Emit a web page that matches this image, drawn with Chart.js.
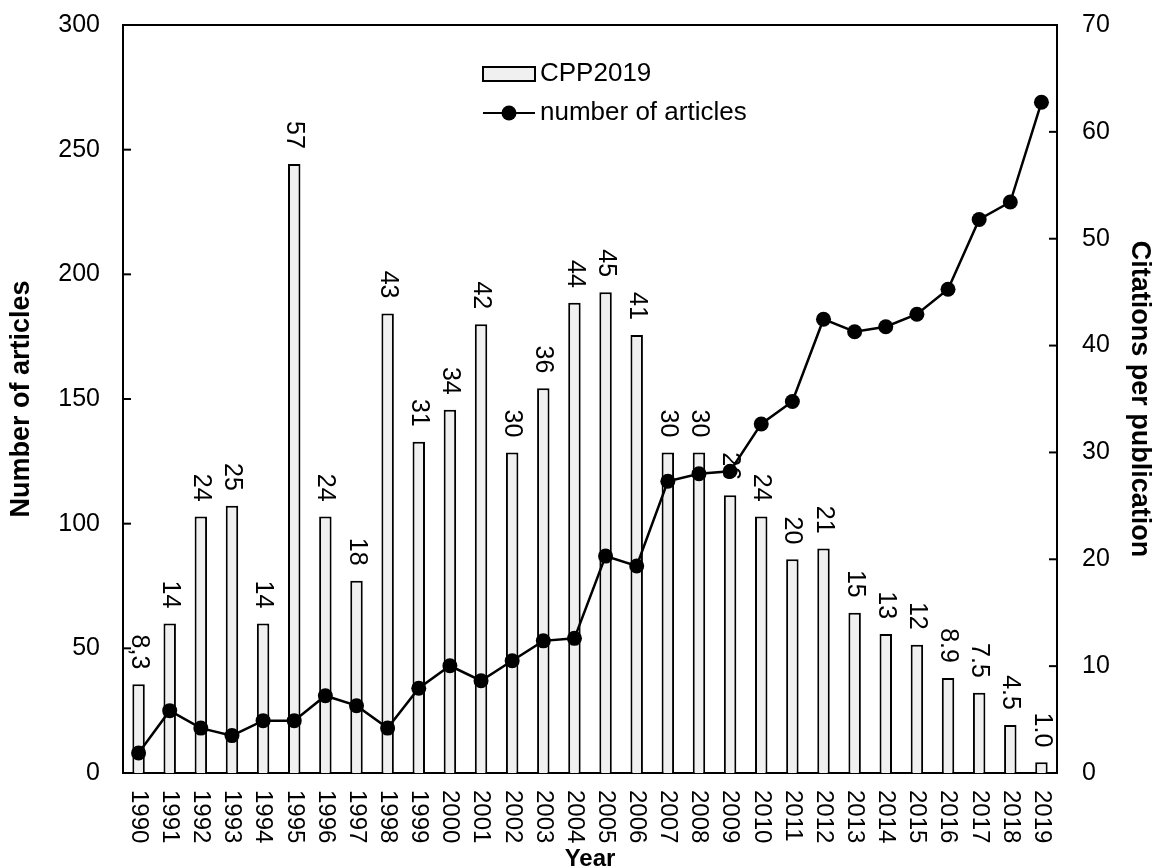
<!DOCTYPE html>
<html>
<head>
<meta charset="utf-8">
<script src="https://cdn.jsdelivr.net/npm/chart.js@4.4.0/dist/chart.umd.min.js"></script>
<style>
  body { margin: 0; background: #fff; }
  #wrap { width: 1156px; height: 868px; }
</style>
</head>
<body>
<div id="wrap"><canvas id="chart" width="1156" height="868"></canvas></div>
<script>
// data
const years = ['1990','1991','1992','1993','1994','1995','1996','1997','1998','1999',
  '2000','2001','2002','2003','2004','2005','2006','2007','2008','2009',
  '2010','2011','2012','2013','2014','2015','2016','2017','2018','2019'];
const articleCounts = [8, 25, 18, 15, 21, 21, 31, 27, 18, 34,
  43, 37, 45, 53, 54, 87, 83, 117, 120, 121,
  140, 149, 182, 177, 179, 184, 194, 222, 229, 269];
const cppValues = [8.3, 14, 24, 25, 14, 57, 24, 18, 43, 31,
  34, 42, 30, 36, 44, 45, 41, 30, 30, 26,
  24, 20, 21, 15, 13, 12, 8.9, 7.5, 4.5, 1.0];
const cppLabels = ['8,3', '14', '24', '25', '14', '57', '24', '18', '43', '31',
  '34', '42', '30', '36', '44', '45', '41', '30', '30', '26',
  '24', '20', '21', '15', '13', '12', '8.9', '7.5', '4.5', '1.0'];
const leftAxisMax = 300, leftAxisStep = 50;
const rightAxisMax = 70, rightAxisStep = 10;

const FONT = '"Liberation Sans", Arial, sans-serif';
Chart.defaults.font.family = FONT;
Chart.defaults.color = '#000';

// bar labels, inward ticks, top frame, rotated year labels and legend
const decor = {
  id: 'decor',
  afterDatasetDraw(chart, args) {
    if (args.index !== 0) return;
    const ctx = chart.ctx;
    const meta = chart.getDatasetMeta(0);
    ctx.save();
    ctx.font = '25px ' + FONT;
    ctx.fillStyle = '#000';
    ctx.textAlign = 'right';
    ctx.textBaseline = 'middle';
    meta.data.forEach((bar, i) => {
      ctx.save();
      ctx.translate(bar.x, bar.y - 15);
      ctx.rotate(Math.PI / 2);
      ctx.fillText(cppLabels[i], 0, 0);
      ctx.restore();
    });
    ctx.restore();
  },
  afterDraw(chart) {
    const { ctx, chartArea: a, scales } = chart;
    ctx.save();
    ctx.strokeStyle = '#000';
    ctx.lineWidth = 2;

    ctx.beginPath();
    ctx.moveTo(a.left - 1, a.top);
    ctx.lineTo(a.right + 1, a.top);
    ctx.stroke();

    scales.y.ticks.forEach(t => {
      const y = scales.y.getPixelForValue(t.value);
      ctx.beginPath(); ctx.moveTo(a.left, y); ctx.lineTo(a.left + 8, y); ctx.stroke();
    });
    scales.y1.ticks.forEach(t => {
      const y = scales.y1.getPixelForValue(t.value);
      ctx.beginPath(); ctx.moveTo(a.right - 8, y); ctx.lineTo(a.right, y); ctx.stroke();
    });

    // x labels read top to bottom
    ctx.font = '24px ' + FONT;
    ctx.fillStyle = '#000';
    ctx.textAlign = 'left';
    ctx.textBaseline = 'middle';
    years.forEach((yr, i) => {
      const x = scales.x.getPixelForValue(i);
      ctx.save();
      ctx.translate(x, a.bottom + 17);
      ctx.rotate(Math.PI / 2);
      ctx.fillText(yr, 0, 0);
      ctx.restore();
    });

    // legend
    const lx = a.left + 360, ly = a.top + 49;
    ctx.fillStyle = '#f0f0f0';
    ctx.fillRect(lx, ly - 7, 52, 14);
    ctx.strokeRect(lx, ly - 7, 52, 14);
    ctx.beginPath(); ctx.moveTo(lx, ly + 39); ctx.lineTo(lx + 52, ly + 39); ctx.stroke();
    ctx.fillStyle = '#000';
    ctx.beginPath(); ctx.arc(lx + 26, ly + 39, 7.5, 0, Math.PI * 2); ctx.fill();
    ctx.font = '26px ' + FONT;
    ctx.textAlign = 'left';
    ctx.fillText('CPP2019', lx + 57, ly);
    ctx.fillText('number of articles', lx + 57, ly + 39);
    ctx.restore();
  }
};

// keep the plot frame where the figure has it
function fixVertical(width) {
  return function (scale) {
    scale.width = width;
    scale.paddingTop = 0;
    scale.paddingBottom = 0;
  };
}

new Chart(document.getElementById('chart'), {
  data: {
    labels: years,
    datasets: [
      {
        type: 'bar',
        label: 'CPP2019',
        data: cppValues,
        yAxisID: 'y1',
        order: 2,
        backgroundColor: '#f0f0f0',
        borderColor: '#000',
        borderWidth: 2,
        borderSkipped: 'bottom',
        barPercentage: 0.4,
        categoryPercentage: 1
      },
      {
        type: 'line',
        label: 'number of articles',
        data: articleCounts,
        yAxisID: 'y',
        order: 1,
        borderColor: '#000',
        borderWidth: 2.5,
        backgroundColor: '#000',
        pointRadius: 7.5,
        pointBackgroundColor: '#000',
        pointBorderWidth: 0,
        tension: 0,
        fill: false
      }
    ]
  },
  options: {
    responsive: false,
    animation: false,
    layout: { padding: { top: 25, left: 0, right: 0, bottom: 0 } },
    plugins: {
      legend: { display: false },
      tooltip: { enabled: false }
    },
    scales: {
      x: {
        type: 'category',
        offset: true,
        grid: { display: false, drawTicks: false },
        border: { display: true, color: '#000', width: 2 },
        ticks: { display: false },
        title: {
          display: true, text: 'Year', color: '#000',
          font: { size: 24, weight: 'bold' },
          padding: { top: 0, bottom: -6 }
        },
        afterFit(scale) {
          scale.height = 95;
          scale.paddingLeft = 0;
          scale.paddingRight = 0;
        }
      },
      y: {
        position: 'left',
        min: 0, max: leftAxisMax,
        grid: { display: false, drawTicks: false },
        border: { display: true, color: '#000', width: 2 },
        ticks: { stepSize: leftAxisStep, padding: 23, color: '#000', font: { size: 25 } },
        title: {
          display: true, text: 'Number of articles', color: '#000',
          font: { size: 27, weight: 'bold' },
          padding: { top: 5, bottom: 0 }
        },
        afterFit: fixVertical(123)
      },
      y1: {
        position: 'right',
        min: 0, max: rightAxisMax,
        grid: { display: false, drawTicks: false },
        border: { display: true, color: '#000', width: 2 },
        ticks: { stepSize: rightAxisStep, padding: 25, color: '#000', font: { size: 25 } },
        title: {
          display: true, text: 'Citations per publication', color: '#000',
          font: { size: 27, weight: 'bold' },
          padding: { top: 0, bottom: 0 }
        },
        afterFit: fixVertical(99)
      }
    }
  },
  plugins: [decor]
});
</script>
</body>
</html>
